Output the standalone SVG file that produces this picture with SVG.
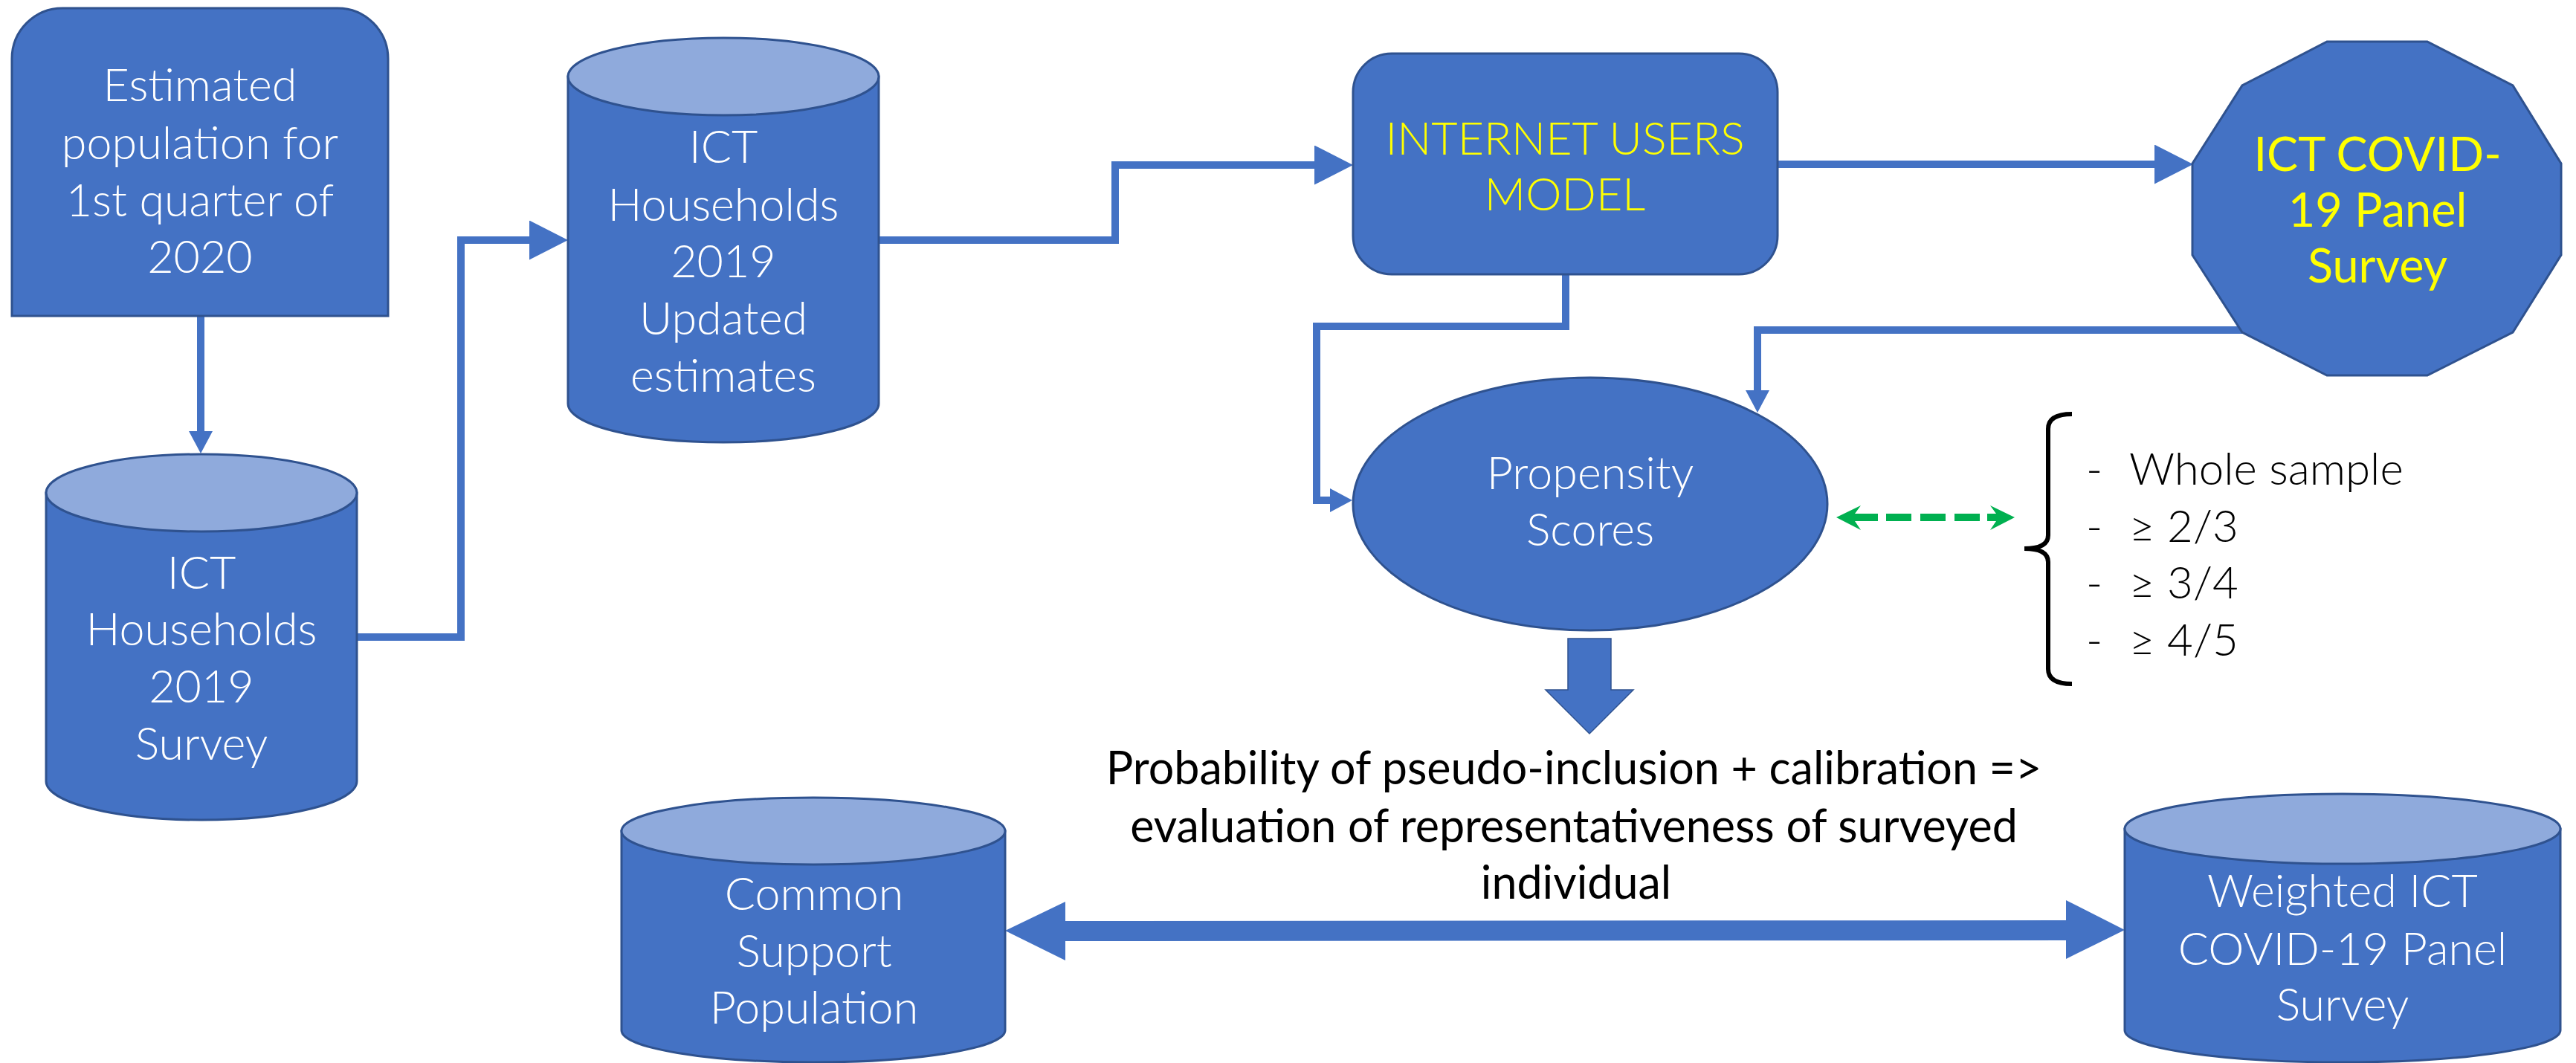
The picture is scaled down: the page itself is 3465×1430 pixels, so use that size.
<svg xmlns="http://www.w3.org/2000/svg" width="3465" height="1430" viewBox="0 0 3465 1430">
<style>
.shape{fill:#4472C4;stroke:#2F528F;stroke-width:3}
.top{fill:#8FAADC;stroke:#2F528F;stroke-width:3}
.wt{font-family:Lato,"Open Sans","Liberation Sans",sans-serif;font-weight:300;font-size:61px;fill:#FFFFFF;text-anchor:middle}
.yl{font-family:Lato,"Open Sans","Liberation Sans",sans-serif;font-weight:300;font-size:61px;fill:#FFFF00;text-anchor:middle}
.yr{font-family:Lato,"Open Sans","Liberation Sans",sans-serif;font-weight:400;font-size:63px;fill:#FFFF00;text-anchor:middle}
.bk{font-family:Lato,"Open Sans","Liberation Sans",sans-serif;font-weight:400;font-size:61px;fill:#000000;text-anchor:middle}
.li{font-family:Lato,"Open Sans","Liberation Sans",sans-serif;font-weight:300;font-size:60px;fill:#000000}
.conn{fill:none;stroke:#4472C4;stroke-width:10}
</style>
<defs>
<marker id="big" markerUnits="userSpaceOnUse" viewBox="0 0 52 53" refX="0" refY="26.5" markerWidth="52" markerHeight="53" orient="auto">
<path d="M0,0 L52,26.5 L0,53 Z" fill="#4472C4"/>
</marker>
<marker id="small" markerUnits="userSpaceOnUse" viewBox="0 0 30 32" refX="0" refY="16" markerWidth="30" markerHeight="32" orient="auto">
<path d="M0,0 L30,16 L0,32 Z" fill="#4472C4"/>
</marker>
</defs>

<g id="connectors">
<path class="conn" d="M270,425 V580" marker-end="url(#small)"/>
<path class="conn" d="M480,857 H620 V323 H712" marker-end="url(#big)"/>
<path class="conn" d="M1182,323 H1500 V222 H1768" marker-end="url(#big)"/>
<path class="conn" d="M2391,221 H2898" marker-end="url(#big)"/>
<path class="conn" d="M2106,369 V439 H1771 V673 H1789" marker-end="url(#small)"/>
<path class="conn" d="M3016,444 H2364 V525" marker-end="url(#small)"/>
<g id="green-arrow" fill="#00B050">
<polygon points="2470,696 2503,680 2495,691 2526,691 2526,701 2495,701 2503,713"/>
<line x1="2537" y1="696" x2="2663" y2="696" stroke="#00B050" stroke-width="10" stroke-dasharray="34 12"/>
<polygon points="2710,696 2677,680 2685,691 2673,691 2673,701 2685,701 2677,713"/>
</g>
<polygon id="down-arrow" points="2109,859 2167,859 2167,928 2197,928 2138,987 2079,928 2109,928" fill="#4472C4" stroke="#2F528F" stroke-width="1.5"/>
<polygon id="double-arrow" points="1352,1252 1433,1213 1433,1239 2779,1238 2779,1211 2858,1251 2779,1290 2779,1265 1433,1266 1433,1292" fill="#4472C4"/>
</g>

<g id="estimated-population">
<path class="shape" d="M16,425 L16,79 A68,68 0 0 1 84,11 L454,11 A68,68 0 0 1 522,79 L522,425 Z"/>
<text class="wt" x="269" y="136">Estimated</text>
<text class="wt" x="269" y="214">population for</text>
<text class="wt" x="269" y="291">1st quarter of</text>
<text class="wt" x="269" y="367">2020</text>
</g>

<g id="ict-households-updated">
<path class="shape" d="M764,103 L764,543 A209,52 0 0 0 1182,543 L1182,103 Z"/>
<ellipse class="top" cx="973" cy="103" rx="209" ry="52"/>
<text class="wt" x="973" y="219">ICT</text>
<text class="wt" x="973" y="297">Households</text>
<text class="wt" x="973" y="373">2019</text>
<text class="wt" x="973" y="450">Updated</text>
<text class="wt" x="973" y="527">estimates</text>
</g>

<g id="ict-households-survey">
<path class="shape" d="M62,663 L62,1051 A209,52 0 0 0 480,1051 L480,663 Z"/>
<ellipse class="top" cx="271" cy="663" rx="209" ry="52"/>
<text class="wt" x="271" y="792">ICT</text>
<text class="wt" x="271" y="868">Households</text>
<text class="wt" x="271" y="945">2019</text>
<text class="wt" x="271" y="1022">Survey</text>
</g>

<g id="internet-users-model">
<rect class="shape" x="1820" y="72" width="571" height="297" rx="52" ry="52"/>
<text class="yl" x="2105" y="208">INTERNET USERS</text>
<text class="yl" x="2105" y="283">MODEL</text>
</g>

<g id="ict-covid-panel">
<polygon class="shape" points="3130,56 3265,56 3380,115 3445,220 3445,343 3380,447 3265,505 3130,505 3016,447 2949,343 2949,220 3016,115"/>
<text class="yr" x="3198" y="230">ICT COVID-</text>
<text class="yr" x="3198" y="305">19 Panel</text>
<text class="yr" x="3198" y="380">Survey</text>
</g>

<g id="propensity-scores">
<ellipse class="shape" cx="2139" cy="678" rx="319" ry="170"/>
<text class="wt" x="2139" y="658">Propensity</text>
<text class="wt" x="2139" y="734">Scores</text>
</g>

<g id="thresholds">
<path d="M2787,557 Q2755,557 2755,577 V720 Q2755,738 2723,738 Q2755,738 2755,756 V900 Q2755,920 2787,920" fill="none" stroke="#000" stroke-width="6"/>
<text class="li" x="2806" y="652">-</text><text class="li" x="2864" y="652">Whole sample</text>
<text class="li" x="2806" y="729">-</text><text class="li" x="2864" y="729">≥ 2/3</text>
<text class="li" x="2806" y="805">-</text><text class="li" x="2864" y="805">≥ 3/4</text>
<text class="li" x="2806" y="882">-</text><text class="li" x="2864" y="882">≥ 4/5</text>
</g>

<g id="probability-label">
<text class="bk" x="2117" y="1055">Probability of pseudo-inclusion + calibration =&gt;</text>
<text class="bk" x="2117" y="1133">evaluation of representativeness of surveyed</text>
<text class="bk" x="2120" y="1209">individual</text>
</g>

<g id="common-support-population">
<path class="shape" d="M836,1118 L836,1386 A258,43 0 0 0 1352,1386 L1352,1118 Z"/>
<ellipse class="top" cx="1094" cy="1118" rx="258" ry="45"/>
<text class="wt" x="1095" y="1224">Common</text>
<text class="wt" x="1095" y="1301">Support</text>
<text class="wt" x="1095" y="1377">Population</text>
</g>

<g id="weighted-panel">
<path class="shape" d="M2858,1115 L2858,1386 A293,43 0 0 0 3444,1386 L3444,1115 Z"/>
<ellipse class="top" cx="3151" cy="1115" rx="293" ry="47"/>
<text class="wt" x="3151" y="1220">Weighted ICT</text>
<text class="wt" x="3151" y="1298">COVID-19 Panel</text>
<text class="wt" x="3151" y="1373">Survey</text>
</g>
</svg>
